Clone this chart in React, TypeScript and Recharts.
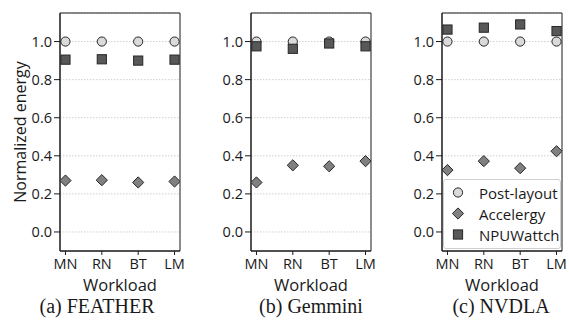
import React from "react";
import {
  ScatterChart,
  Scatter,
  XAxis,
  YAxis,
  CartesianGrid,
  ReferenceArea,
  Legend,
} from "recharts";

const workloads = ["MN", "RN", "BT", "LM"];
const yTicks = [0, 0.2, 0.4, 0.6, 0.8, 1.0];

const featherPost = [1.0, 1.0, 1.0, 1.0];
const featherAccelergy = [0.27, 0.272, 0.26, 0.265];
const featherNpu = [0.905, 0.907, 0.9, 0.905];

const gemminiPost = [1.0, 1.0, 1.0, 1.0];
const gemminiAccelergy = [0.26, 0.35, 0.345, 0.372];
const gemminiNpu = [0.975, 0.962, 0.99, 0.975];

const nvdlaPost = [1.0, 1.0, 1.0, 1.0];
const nvdlaAccelergy = [0.325, 0.372, 0.335, 0.424];
const nvdlaNpu = [1.063, 1.073, 1.09, 1.055];

const FONT = "'Open Sans', sans-serif";
const INK = "#1a1a1a";
const POST_FILL = "#dadada";
const ACC_FILL = "#808080";
const NPU_FILL = "#585858";
const EDGE = "#262626";
const X_DOMAIN: [number, number] = [-0.15, 3.15];
const Y_DOMAIN: [number, number] = [-0.1, 1.15];

const toPoints = (vals: number[]) => vals.map((y, x) => ({ x, y }));

function CircleDot(p: any) {
  return <circle cx={p.cx} cy={p.cy} r={4.6} fill={POST_FILL} stroke={EDGE} strokeWidth={1} />;
}
function DiamondDot(p: any) {
  const s = 5.6;
  return (
    <path
      d={`M${p.cx},${p.cy - s}L${p.cx + s},${p.cy}L${p.cx},${p.cy + s}L${p.cx - s},${p.cy}Z`}
      fill={ACC_FILL}
      stroke={EDGE}
      strokeWidth={1}
    />
  );
}
function SquareDot(p: any) {
  const s = 4.6;
  return <rect x={p.cx - s} y={p.cy - s} width={s * 2} height={s * 2} fill={NPU_FILL} stroke={EDGE} strokeWidth={1} />;
}

function LegendBox() {
  const rows = [
    { name: "Post-layout", Dot: CircleDot },
    { name: "Accelergy", Dot: DiamondDot },
    { name: "NPUWattch", Dot: SquareDot },
  ];
  return (
    <div
      style={{
        border: "1px solid #cfcfcf",
        borderRadius: 3,
        background: "rgba(255,255,255,0.85)",
        padding: "2px 0 3px 0",
        width: 116,
        fontFamily: FONT,
        fontSize: 15,
        color: INK,
      }}
    >
      {rows.map(({ name, Dot }) => (
        <div key={name} style={{ display: "flex", alignItems: "center", height: 21 }}>
          <svg width={30} height={21} style={{ flex: "none" }}>
            <Dot cx={14} cy={10.5} />
          </svg>
          <span style={{ marginLeft: 5, whiteSpace: "nowrap" }}>{name}</span>
        </div>
      ))}
    </div>
  );
}

function YLabel(props: any) {
  const vb = props.viewBox;
  const cy = vb.y + vb.height / 2;
  return (
    <text x={20} y={cy} transform={`rotate(-90 20 ${cy})`} textAnchor="middle" dominantBaseline="central" fontSize={16} fill={INK} fontFamily={FONT}>
      Normalized energy
    </text>
  );
}

function XLabel(props: any) {
  const vb = props.viewBox;
  return (
    <text x={vb.x + vb.width / 2} y={291} textAnchor="middle" fontSize={16.5} fill={INK} fontFamily={FONT}>
      Workload
    </text>
  );
}

function Panel({
  post,
  acc,
  npu,
  showYLabel,
  showLegend,
}: {
  post: number[];
  acc: number[];
  npu: number[];
  showYLabel?: boolean;
  showLegend?: boolean;
}) {
  return (
    <ScatterChart width={185} height={322} margin={{ top: 13, right: 5, bottom: 0, left: 0 }}>
      <ReferenceArea x1={X_DOMAIN[0]} x2={X_DOMAIN[1]} y1={Y_DOMAIN[0]} y2={Y_DOMAIN[1]} fill="none" stroke={INK} strokeWidth={1} ifOverflow="visible" />
      <CartesianGrid horizontal vertical={false} stroke="#cfcfcf" strokeDasharray="1.5 1.5" />
      <XAxis
        type="number"
        dataKey="x"
        domain={X_DOMAIN}
        ticks={[0, 1, 2, 3]}
        tickFormatter={(i: number) => workloads[i]}
        height={71}
        tickSize={4}
        tickMargin={4}
        axisLine={{ stroke: INK }}
        tickLine={{ stroke: INK }}
        tick={{ fill: INK, fontSize: 14.5, fontFamily: FONT }}
        interval={0}
        allowDataOverflow
        label={<XLabel />}
      />
      <YAxis
        type="number"
        dataKey="y"
        domain={Y_DOMAIN}
        ticks={yTicks}
        tickFormatter={(v: number) => v.toFixed(1)}
        width={60}
        tickSize={6}
        tickMargin={2}
        axisLine={{ stroke: INK }}
        tickLine={{ stroke: INK }}
        tick={{ fill: INK, fontSize: 14.5, fontFamily: FONT }}
        interval={0}
        allowDataOverflow
        label={showYLabel ? <YLabel /> : undefined}
      />
      <Scatter name="Post-layout" data={toPoints(post)} shape={CircleDot} isAnimationActive={false} />
      <Scatter name="Accelergy" data={toPoints(acc)} shape={DiamondDot} isAnimationActive={false} />
      <Scatter name="NPUWattch" data={toPoints(npu)} shape={SquareDot} isAnimationActive={false} />
      {showLegend && (
        <Legend
          layout="vertical"
          align="center"
          verticalAlign="middle"
          content={<LegendBox />}
          wrapperStyle={{ left: 61, top: 179, width: 118, height: 68 }}
        />
      )}
    </ScatterChart>
  );
}

export default function App() {
  return (
    <div style={{ position: "absolute", left: 0, top: 0, width: 569, height: 322, background: "#fff", fontFamily: FONT }}>
      <svg width={569} height={322} style={{ position: "absolute", left: 0, top: 0 }}>
        <g fontFamily="'Liberation Serif', serif" fontSize={20} fill={INK} textAnchor="middle">
          <text x={97} y={313}>(a) FEATHER</text>
          <text x={311} y={313}>(b) Gemmini</text>
          <text x={501} y={313}>(c) NVDLA</text>
        </g>
      </svg>
      <div style={{ position: "absolute", left: 0, top: 0 }}>
        <Panel post={featherPost} acc={featherAccelergy} npu={featherNpu} showYLabel />
      </div>
      <div style={{ position: "absolute", left: 191, top: 0 }}>
        <Panel post={gemminiPost} acc={gemminiAccelergy} npu={gemminiNpu} />
      </div>
      <div style={{ position: "absolute", left: 382, top: 0 }}>
        <Panel post={nvdlaPost} acc={nvdlaAccelergy} npu={nvdlaNpu} showLegend />
      </div>
    </div>
  );
}
